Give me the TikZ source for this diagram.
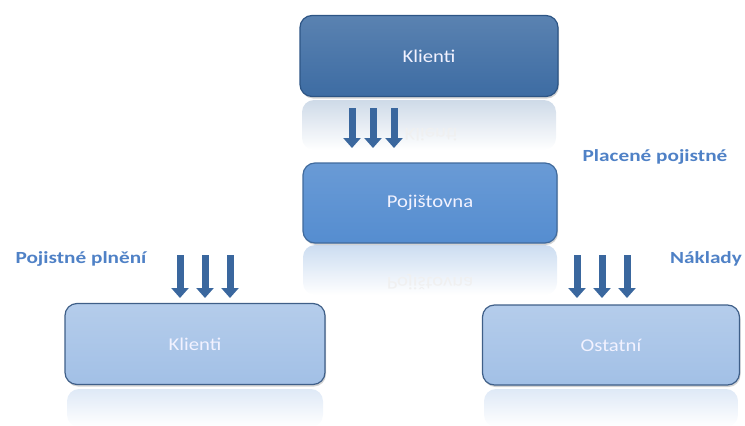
\documentclass[tikz,border=0pt]{standalone}
\usepackage{fontspec}
\setmainfont{Carlito}
\usepackage{tikz}
\usetikzlibrary{arrows.meta, positioning, calc, shadows}
\definecolor{boxdark}{HTML}{3D6CA3}
\definecolor{boxmid}{HTML}{558DD0}
\definecolor{boxlight}{HTML}{A2C0E6}
\definecolor{rimdark}{HTML}{2D5585}
\definecolor{rimlight}{HTML}{3F5F88}
\definecolor{flowblue}{HTML}{3A679E}
\definecolor{labelblue}{HTML}{4F81C6}

\begin{document}
\begin{tikzpicture}[
    x=1pt, y=-1pt,
    party/.style={rectangle, rounded corners=12pt, line width=1.2pt, minimum width=#1, minimum height=81pt, text=white!95!blue, font=\fontsize{18}{21}\selectfont, drop shadow={opacity=0.35, shadow xshift=1pt, shadow yshift=-2pt}},
    party/.default=258pt,
    mirror/.style={rectangle, rounded corners=12pt, minimum width=#1, minimum height=50pt, inner sep=0pt},
    mirror/.default=254pt,
    mirrortext/.style={yscale=-1, xscale=1.15, font=\fontsize{18}{21}\selectfont, text=white!88!gray},
    flow/.style={-{Triangle[length=10pt, width=17pt]}, line width=7pt, flowblue},
    flowlabel/.style={font=\bfseries\fontsize{17}{20}\selectfont, text=labelblue, xscale=1.25}
]
\useasboundingbox (0,0) rectangle (745,426);

% reflections
\node[mirror, top color=boxdark!25, bottom color=white] (klientiR) at (429,125) {};
\node[mirrortext] at (431,135) {Klienti};
\node[mirror, top color=boxmid!30, bottom color=white] (pojistovnaR) at (430,270) {};
\node[mirrortext] at (430,282) {Pojištovna};
\node[mirror=256pt, minimum height=38pt, top color=boxlight!35, bottom color=white] (klientiBR) at (195,408) {};
\node[mirror=254pt, minimum height=38pt, top color=boxlight!35, bottom color=white] (ostatniR) at (611,408) {};

% boxes
\node[party, draw=rimdark, top color=boxdark!85!white, bottom color=boxdark, xscale=1] (klienti) at (429,56) {\scalebox{1.15}[1]{Klienti}};
\node[party=254pt, minimum height=80pt, draw=boxmid!75!black, top color=boxmid!88!white, bottom color=boxmid] (pojistovna) at (430,203) {\scalebox{1.15}[1]{Pojištovna}};
\node[party=260pt, draw=rimlight, top color=boxlight!80!white, bottom color=boxlight] (klientiB) at (195,344) {\scalebox{1.15}[1]{Klienti}};
\node[party=257pt, minimum height=80pt, draw=rimlight, top color=boxlight!80!white, bottom color=boxlight] (ostatni) at (611,345) {\scalebox{1.15}[1]{Ostatní}};

% flows
\coordinate (topA) at (373,108);
\coordinate (topB) at (373,148);
\coordinate (leftA) at (205,255);
\coordinate (leftB) at (205,298);
\coordinate (rightA) at (602,255);
\coordinate (rightB) at (602,298);
\foreach \dx in {-21,0,21}
    \draw[flow] ([xshift=\dx pt]topA) -- ([xshift=\dx pt]topB);
\foreach \dx in {-25,0,25} {
    \draw[flow] ([xshift=\dx pt]leftA) -- ([xshift=\dx pt]leftB);
    \draw[flow] ([xshift=\dx pt]rightA) -- ([xshift=\dx pt]rightB);
}

% labels
\node[flowlabel] (placene) at (655,157) {Placené pojistné};
\node[flowlabel] (plneni) at (81,259) {Pojistné plnění};
\node[flowlabel] (naklady) at (706,259) {Náklady};
\end{tikzpicture}
\end{document}
